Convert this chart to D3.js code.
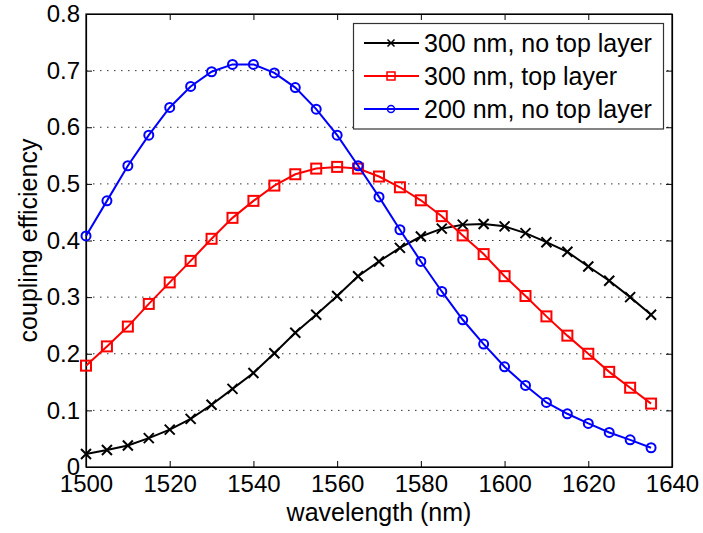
<!DOCTYPE html>
<html>
<head>
<meta charset="utf-8">
<script src="https://cdn.jsdelivr.net/npm/d3@7"></script>
<style>
  body { margin: 0; background: #fff; }
  svg text { font-family: Arial, "Liberation Sans", Helvetica, sans-serif; }
</style>
</head>
<body>
<svg id="chart" width="703" height="533"></svg>
<script>
// wavelength samples (nm)
var wavelengths = [1500,1505,1510,1515,1520,1525,1530,1535,1540,1545,1550,1555,1560,1565,
                   1570,1575,1580,1585,1590,1595,1600,1605,1610,1615,1620,1625,1630,1635];

var noTop300 = [0.023,0.030,0.038,0.051,0.066,0.085,0.110,0.138,0.166,0.201,0.237,0.269,0.302,0.337,
                0.363,0.387,0.407,0.421,0.428,0.429,0.425,0.413,0.397,0.380,0.354,0.329,0.300,0.269];
var top300   = [0.179,0.213,0.248,0.288,0.326,0.364,0.403,0.440,0.470,0.497,0.517,0.527,0.530,0.527,
                0.513,0.494,0.471,0.443,0.409,0.376,0.337,0.302,0.266,0.232,0.200,0.168,0.140,0.112];
var noTop200 = [0.408,0.470,0.532,0.586,0.635,0.672,0.698,0.711,0.711,0.696,0.670,0.632,0.586,0.532,
                0.477,0.419,0.363,0.310,0.260,0.217,0.177,0.144,0.114,0.094,0.077,0.061,0.048,0.034];

var seriesNames = ['300 nm, no top layer', '300 nm, top layer', '200 nm, no top layer'];
var seriesColors = ['#000000', '#ff0000', '#0000ff'];
var seriesMarkers = ['x', 'square', 'circle'];
var xTicks = [1500,1520,1540,1560,1580,1600,1620,1640];
var yTicks = [0,0.1,0.2,0.3,0.4,0.5,0.6,0.7,0.8];

var margin = {top:14, right:31, bottom:66, left:86},
    width = 703 - margin.left - margin.right,
    height = 533 - margin.top - margin.bottom;

var svg = d3.select('#chart');
var g = svg.append('g').attr('transform','translate(' + margin.left + ',' + margin.top + ')');

var x = d3.scaleLinear().domain([1500,1640]).range([0,width]);
var y = d3.scaleLinear().domain([0,0.8]).range([height,0]);

// dotted horizontal grid
g.selectAll('.grid')
    .data(yTicks.filter(d => d > 0 && d < 0.8))
    .join('line')
    .attr('class','grid')
    .attr('x1',0).attr('x2',width)
    .attr('y1',d => y(d)).attr('y2',d => y(d))
    .attr('stroke','#333')
    .attr('stroke-width',1)
    .attr('stroke-dasharray','1.5,5.5');

// axes with inward ticks on all four sides
var fontSize = '24px';
var bottomAxis = g.append('g').attr('transform','translate(0,' + height + ')')
    .call(d3.axisBottom(x).tickValues(xTicks).tickSizeInner(-6).tickSizeOuter(0).tickPadding(8).tickFormat(d3.format('d')));
var topAxis = g.append('g')
    .call(d3.axisTop(x).tickValues(xTicks).tickSizeInner(-6).tickSizeOuter(0).tickFormat(''));
var leftAxis = g.append('g')
    .call(d3.axisLeft(y).tickValues(yTicks).tickSizeInner(-6).tickSizeOuter(0).tickPadding(6).tickFormat(d => d === 0 ? '0' : d3.format('.1f')(d)));
var rightAxis = g.append('g').attr('transform','translate(' + width + ',0)')
    .call(d3.axisRight(y).tickValues(yTicks).tickSizeInner(-6).tickSizeOuter(0).tickFormat(''));

[bottomAxis, topAxis, leftAxis, rightAxis].forEach(function(a){
    a.select('.domain').attr('stroke','#000').attr('stroke-width',1.2);
    a.selectAll('.tick line').attr('stroke','#000').attr('stroke-width',1);
    a.selectAll('text').attr('fill','#000').style('font-size',fontSize).attr('font-family','Arial, "Liberation Sans", sans-serif');
});
bottomAxis.selectAll('text').attr('dy','0.71em').attr('y',8);

// box
g.append('rect')
    .attr('x',0).attr('y',0).attr('width',width).attr('height',height)
    .attr('fill','none').attr('stroke','#000').attr('stroke-width',1.2);

// axis titles
svg.append('text')
    .attr('x', margin.left + width/2)
    .attr('y', 521)
    .attr('text-anchor','middle')
    .style('font-size','25px')
    .text('wavelength (nm)');
svg.append('text')
    .attr('transform','translate(37,' + (margin.top + height/2) + ') rotate(-90)')
    .attr('text-anchor','middle')
    .style('font-size','25px')
    .text('coupling efficiency');

// markers
function drawMarker(sel, type, color){
    if(type === 'x'){
        sel.append('path')
            .attr('d','M-5,-5L5,5M-5,5L5,-5')
            .attr('stroke',color).attr('stroke-width',2).attr('fill','none');
    }else if(type === 'square'){
        sel.append('rect')
            .attr('x',-5).attr('y',-5).attr('width',10).attr('height',10)
            .attr('stroke',color).attr('stroke-width',2).attr('fill','none');
    }else{
        sel.append('circle')
            .attr('r',4.5)
            .attr('stroke',color).attr('stroke-width',2).attr('fill','none');
    }
}

var seriesData = [noTop300, top300, noTop200];
var line = d3.line().x(d => x(d.w)).y(d => y(d.v));

seriesData.forEach(function(vals, i){
    var pts = wavelengths.map((w,j) => ({w:w, v:vals[j]}));
    g.append('path')
        .datum(pts)
        .attr('d',line)
        .attr('fill','none')
        .attr('stroke',seriesColors[i])
        .attr('stroke-width',2);
    g.selectAll('.mk' + i)
        .data(pts)
        .join('g')
        .attr('class','mk' + i)
        .attr('transform',d => 'translate(' + x(d.w) + ',' + y(d.v) + ')')
        .each(function(){ drawMarker(d3.select(this), seriesMarkers[i], seriesColors[i]); });
});

// legend
var legend = svg.append('g');
legend.append('rect')
    .attr('x',353.5).attr('y',23.5).attr('width',310).attr('height',105.5)
    .attr('fill','#fff').attr('stroke','#333').attr('stroke-width',1.2);
seriesNames.forEach(function(name, i){
    var cy = 43 + i*33;
    var row = legend.append('g');
    row.append('line')
        .attr('x1',364).attr('x2',419).attr('y1',cy).attr('y2',cy)
        .attr('stroke',seriesColors[i]).attr('stroke-width',2);
    var m = row.append('g').attr('transform','translate(391,' + cy + ')');
    if(seriesMarkers[i] === 'x'){
        m.append('path').attr('d','M-3.5,-3.5L3.5,3.5M-3.5,3.5L3.5,-3.5')
            .attr('stroke',seriesColors[i]).attr('stroke-width',1.5);
    }else if(seriesMarkers[i] === 'square'){
        m.append('rect').attr('x',-4).attr('y',-4).attr('width',8).attr('height',8)
            .attr('fill','none').attr('stroke',seriesColors[i]).attr('stroke-width',1.5);
    }else{
        m.append('circle').attr('r',3.5)
            .attr('fill','none').attr('stroke',seriesColors[i]).attr('stroke-width',1.5);
    }
    row.append('text')
        .attr('x',424).attr('y',cy + 9)
        .style('font-size','25px')
        .text(name);
});
</script>
</body>
</html>
